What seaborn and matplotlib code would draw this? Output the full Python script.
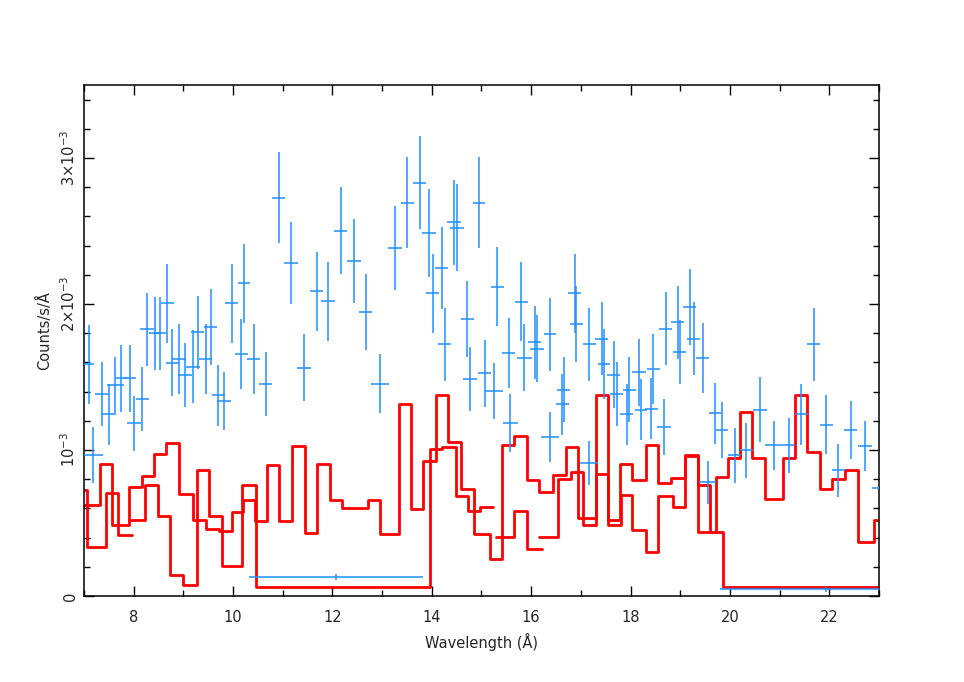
import numpy as np
import pandas as pd
import matplotlib
matplotlib.use("Agg")
import matplotlib.pyplot as plt
from matplotlib.ticker import MultipleLocator, FixedLocator, FixedFormatter
import seaborn as sns

# Count rates are stored in units of 1e-3 counts/s/A
SCALE = 1e-3

# Blue data points: wavelength, rate, half bin width, rate error
obs_wave = [7.10, 7.19, 7.36, 7.50, 7.63, 7.75, 7.93, 8.01, 8.17, 8.26,
            8.43, 8.53, 8.68, 8.78, 8.92, 9.04, 9.19, 9.29, 9.45, 9.55,
            9.70, 9.81, 9.97, 10.17, 10.22, 10.42, 10.66, 10.92, 11.16, 11.42,
            11.68, 11.92, 12.17, 12.43, 12.67, 12.96, 13.26, 13.51, 13.76, 13.94,
            14.02, 14.20, 14.26, 14.45, 14.50, 14.71, 14.77, 14.95, 15.07, 15.26,
            15.32, 15.55, 15.58, 15.80, 15.86, 16.07, 16.11, 16.38, 16.38, 16.63,
            16.66, 16.88, 16.91, 17.17, 17.17, 17.42, 17.46, 17.66, 17.72, 17.92,
            17.97, 18.17, 18.21, 18.42, 18.46, 18.68, 18.71, 18.95, 18.99, 19.19,
            19.27, 19.45, 19.55, 19.70, 19.84, 20.10, 20.33, 20.60, 20.89, 21.19,
            21.44, 21.69, 21.94, 22.18, 22.43, 22.71, 23.05, 12.08, 21.94]
obs_rate = [1.588, 0.966, 1.382, 1.245, 1.444, 1.49, 1.49, 1.183, 1.348, 1.828,
            1.80, 1.80, 2.006, 1.597, 1.624, 1.512, 1.569, 1.807, 1.624, 1.844,
            1.375, 1.334, 2.004, 1.656, 2.143, 1.622, 1.451, 2.729, 2.281, 1.563,
            2.086, 2.018, 2.502, 2.294, 1.947, 1.455, 2.383, 2.694, 2.831, 2.488,
            2.073, 2.244, 1.725, 2.560, 2.523, 1.899, 1.487, 2.694, 1.526, 1.405,
            2.118, 1.665, 1.183, 2.015, 1.631, 1.737, 1.695, 1.794, 1.087, 1.313,
            1.414, 2.073, 1.864, 0.913, 1.725, 1.761, 1.588, 1.517, 1.382, 1.245,
            1.414, 1.531, 1.277, 1.284, 1.553, 1.156, 1.830, 1.876, 1.672, 1.979,
            1.761, 1.631, 0.778, 1.25, 1.137, 0.964, 0.998, 1.277, 1.032, 1.032,
            1.245, 1.725, 1.174, 0.861, 1.137, 1.027, 0.742, 0.129, 0.045]
obs_xerr = [0.11, 0.19, 0.14, 0.15, 0.17, 0.12, 0.12, 0.14, 0.13, 0.14,
            0.13, 0.13, 0.13, 0.13, 0.14, 0.14, 0.14, 0.13, 0.13, 0.13,
            0.13, 0.14, 0.13, 0.13, 0.13, 0.13, 0.13, 0.13, 0.14, 0.14,
            0.13, 0.14, 0.13, 0.14, 0.13, 0.18, 0.14, 0.13, 0.13, 0.14,
            0.13, 0.13, 0.13, 0.14, 0.14, 0.13, 0.14, 0.13, 0.13, 0.18,
            0.13, 0.13, 0.15, 0.13, 0.15, 0.13, 0.14, 0.13, 0.18, 0.13,
            0.13, 0.13, 0.13, 0.18, 0.13, 0.13, 0.12, 0.13, 0.13, 0.13,
            0.13, 0.14, 0.13, 0.13, 0.13, 0.14, 0.13, 0.13, 0.13, 0.13,
            0.13, 0.13, 0.17, 0.13, 0.13, 0.13, 0.13, 0.14, 0.18, 0.13,
            0.14, 0.13, 0.13, 0.13, 0.13, 0.14, 0.20, 1.75, 2.13]
obs_yerr = [0.27, 0.19, 0.22, 0.21, 0.19, 0.23, 0.23, 0.19, 0.22, 0.25,
            0.25, 0.25, 0.27, 0.23, 0.24, 0.22, 0.25, 0.25, 0.24, 0.26,
            0.21, 0.20, 0.27, 0.24, 0.27, 0.24, 0.22, 0.31, 0.28, 0.23,
            0.27, 0.27, 0.30, 0.29, 0.26, 0.20, 0.29, 0.31, 0.32, 0.30,
            0.27, 0.28, 0.25, 0.29, 0.30, 0.26, 0.22, 0.31, 0.23, 0.19,
            0.27, 0.24, 0.20, 0.27, 0.23, 0.25, 0.23, 0.25, 0.17, 0.21,
            0.22, 0.27, 0.26, 0.15, 0.25, 0.25, 0.24, 0.23, 0.22, 0.21,
            0.22, 0.23, 0.21, 0.21, 0.24, 0.19, 0.25, 0.25, 0.22, 0.26,
            0.25, 0.24, 0.15, 0.21, 0.19, 0.19, 0.19, 0.22, 0.17, 0.19,
            0.21, 0.25, 0.20, 0.18, 0.20, 0.17, 0.15, 0.02, 0.02]

# Red step curves: bin edges and bin values (one more edge than values)
step1_edges = [6.82, 7.07, 7.44, 7.69, 7.96]
step1_vals = [0.728, 0.335, 0.705, 0.420]

step2_edges = [6.92, 7.32, 7.57, 7.91, 8.16, 8.41, 8.66, 8.92, 9.20, 9.46,
               9.72, 9.98, 10.21, 10.44, 10.69, 10.92, 11.19, 11.45, 11.70, 11.95,
               12.20, 12.71, 12.96, 13.34, 13.58, 13.83, 14.08, 14.33, 14.58, 14.85,
               15.17, 15.42, 15.66, 15.91, 16.16, 16.44, 16.70, 16.95, 17.30, 17.54,
               17.79, 18.03, 18.31, 18.56, 18.81, 19.10, 19.36, 19.71, 19.96, 20.20,
               20.45, 20.70, 21.07, 21.31, 21.56, 21.81, 22.06, 22.31, 22.57, 22.89,
               23.15]
step2_vals = [0.621, 0.902, 0.484, 0.746, 0.820, 0.970, 1.050, 0.701, 0.522, 0.461,
              0.442, 0.575, 0.655, 0.513, 0.900, 0.511, 1.028, 0.431, 0.906, 0.655,
              0.600, 0.660, 0.426, 1.318, 0.593, 0.925, 1.375, 1.055, 0.735, 0.426,
              0.250, 1.032, 1.094, 0.792, 0.712, 0.826, 1.021, 0.534, 1.375, 0.518,
              0.906, 0.797, 1.032, 0.774, 0.808, 0.964, 0.440, 0.815, 0.942, 1.261,
              0.945, 0.666, 0.945, 1.380, 0.987, 0.735, 0.799, 0.861, 0.369, 0.518]

step3_edges = [7.91, 8.23, 8.48, 8.74, 9.00, 9.27, 9.52, 9.77, 10.19, 10.47,
               13.96, 14.20, 14.48, 14.73, 14.97, 15.24]
step3_vals = [0.522, 0.758, 0.546, 0.145, 0.072, 0.861, 0.546, 0.205, 0.762, 0.061,
              1.010, 1.021, 0.682, 0.582, 0.609]

step4_edges = [15.30, 15.66, 15.91, 16.21]
step4_vals = [0.403, 0.580, 0.323]

step5_edges = [16.16, 16.54, 16.80, 17.05, 17.30, 17.55, 17.80, 18.03, 18.31, 18.56,
               18.86, 19.10, 19.35, 19.60, 19.86, 23.15]
step5_vals = [0.403, 0.799, 0.849, 0.484, 0.838, 0.484, 0.694, 0.449, 0.301, 0.682,
              0.609, 0.957, 0.760, 0.437, 0.061]

BLUE = '#1e90ff'
RED = '#ff0000'

sns.set_style('ticks')
plt.rcParams['font.family'] = ['DejaVu Sans']

fig = plt.figure(figsize=(9.64, 6.82), dpi=100)
ax = fig.add_axes([0.0871, 0.1261, 0.8247, 0.7493])

for edges, vals in [(step1_edges, step1_vals), (step2_edges, step2_vals),
                    (step3_edges, step3_vals), (step4_edges, step4_vals),
                    (step5_edges, step5_vals)]:
    df = pd.DataFrame({'wave': edges,
                       'rate': (np.array(list(vals) + [vals[-1]]) * SCALE)})
    sns.lineplot(data=df, x='wave', y='rate', ax=ax, color=RED, lw=2.0,
                 drawstyle='steps-post', estimator=None, sort=False, zorder=2)

ax.errorbar(obs_wave, np.array(obs_rate) * SCALE,
            xerr=obs_xerr, yerr=np.array(obs_yerr) * SCALE,
            fmt='none', ecolor=BLUE, elinewidth=1.1, capsize=0, zorder=3)

ax.set_xlim(7, 23)
ax.set_ylim(0, 3.5e-3)

ax.xaxis.set_major_locator(MultipleLocator(2))
ax.xaxis.set_minor_locator(MultipleLocator(1))
ax.yaxis.set_major_locator(FixedLocator([0, 1e-3, 2e-3, 3e-3]))
ax.yaxis.set_major_formatter(FixedFormatter(['0', r'$10^{-3}$',
                                             r'$2{\times}10^{-3}$', r'$3{\times}10^{-3}$']))
ax.yaxis.set_minor_locator(MultipleLocator(2e-4))

ax.tick_params(which='both', direction='in', top=True, right=True,
               color='black', width=1.0, labelsize=10.5)
ax.tick_params(which='major', length=7)
ax.tick_params(which='minor', length=4)
ax.tick_params(axis='x', pad=10)
for lab in ax.get_yticklabels():
    lab.set_rotation(90)
    lab.set_va('center')
ax.tick_params(axis='y', pad=4.5)

for sp in ax.spines.values():
    sp.set_color('black')
    sp.set_linewidth(1.1)

ax.set_xlabel('Wavelength (Å)', fontsize=10.5, labelpad=6)
ax.set_ylabel('Counts/s/Å', fontsize=10.5)
ax.yaxis.set_label_coords(-0.040, 0.52)

fig.savefig('out.png', dpi=100, facecolor='white')
